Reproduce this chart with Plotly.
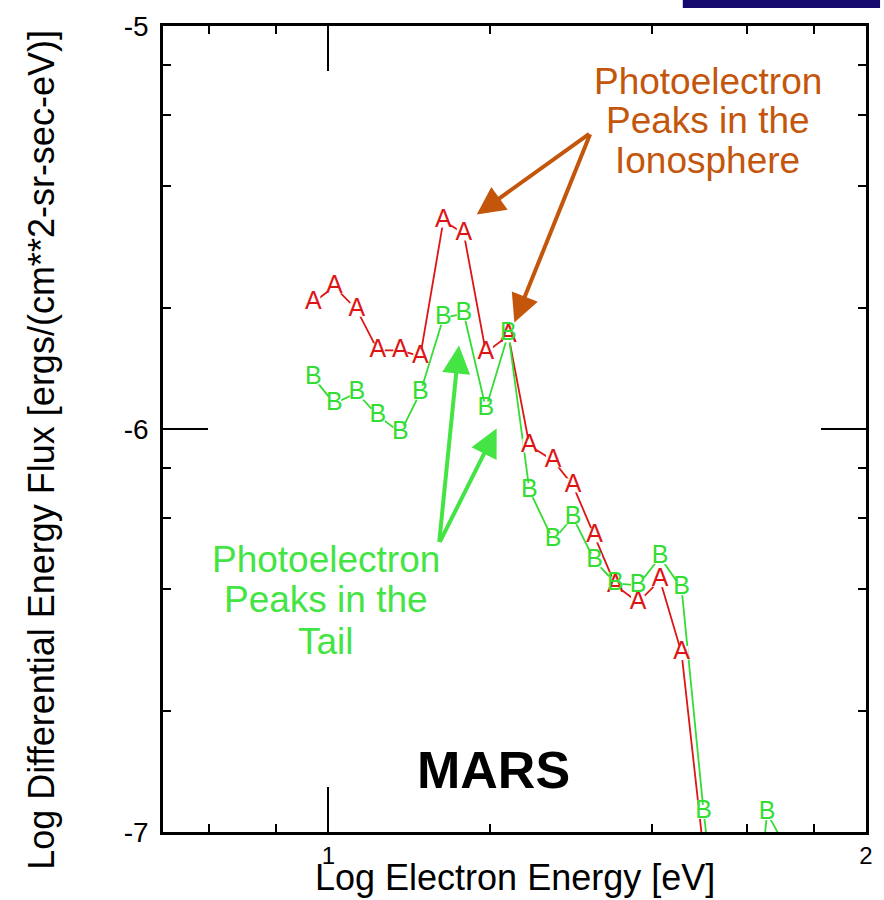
import plotly.graph_objects as go
import numpy as np

# Log10 electron energy (eV) for each channel
log_energy = [0.972, 1.011, 1.053, 1.092, 1.134, 1.171, 1.214, 1.252, 1.293, 1.335,
              1.374, 1.418, 1.455, 1.495, 1.534, 1.576, 1.617, 1.657, 1.698, 1.738,
              1.777, 1.816, 1.856]
# Series A (ionosphere), log differential energy flux
flux_a = [-5.686, -5.647, -5.704, -5.805, -5.805, -5.820, -5.483, -5.515, -5.810, -5.768,
          -6.041, -6.078, -6.140, -6.264, -6.388, -6.430, -6.375, -6.556, -7.05]
# Series B (tail)
flux_b = [-5.872, -5.937, -5.910, -5.967, -6.009, -5.910, -5.724, -5.714, -5.949, -5.763,
          -6.152, -6.276, -6.219, -6.326, -6.383, -6.388, -6.318, -6.395, -6.950, -7.40,
          -7.47, -6.953, -7.05]

x_major = [1, 2]
x_minor_energies = [6, 8, 20, 40, 60, 80]
y_major = [-7, -6, -5]
y_minor_values = [8e-6, 6e-6, 4e-6, 2e-6, 8e-7, 6e-7, 4e-7, 2e-7]

RED = "#DD1515"
GREEN = "#33DD33"
ORANGE = "#C4560C"
TXTGREEN = "#44E444"
FONT = "Liberation Sans, Arial, sans-serif"
Y_MIN, Y_MAX = -7, -5
X_MIN, X_MAX = 0.6925, 2.0

xa = log_energy[:len(flux_a)]
xb = log_energy[:len(flux_b)]


def labels(letter, ys):
    return [letter if Y_MIN <= v <= Y_MAX else "" for v in ys]


fig = go.Figure()
fig.add_trace(go.Scatter(x=xa, y=flux_a, mode="lines", line=dict(color=RED, width=1.8),
                         showlegend=False, hoverinfo="skip"))
fig.add_trace(go.Scatter(x=xb, y=flux_b, mode="lines", line=dict(color=GREEN, width=1.8),
                         showlegend=False, hoverinfo="skip"))
for xs, ys in ((xa, flux_a), (xb, flux_b)):
    fig.add_trace(go.Scatter(x=xs, y=ys, mode="markers",
                             marker=dict(symbol="square", size=14, color="white",
                                         line=dict(width=0)),
                             showlegend=False, hoverinfo="skip"))
fig.add_trace(go.Scatter(x=xa, y=flux_a, mode="text", text=labels("A", flux_a),
                         textposition="middle center",
                         textfont=dict(family=FONT, size=25, color=RED),
                         name="A", showlegend=False))
fig.add_trace(go.Scatter(x=xb, y=flux_b, mode="text", text=labels("B", flux_b),
                         textposition="middle center",
                         textfont=dict(family=FONT, size=25, color=GREEN),
                         name="B", showlegend=False))

axis_common = dict(showgrid=False, zeroline=False, showline=True, linecolor="black",
                   linewidth=2.5, mirror="allticks", ticks="inside", ticklen=45,
                   tickwidth=2, tickcolor="black")

fig.update_xaxes(range=[X_MIN, X_MAX], tickmode="array", tickvals=x_major,
                 ticktext=[str(v) for v in x_major], ticklabelstandoff=0,
                 tickfont=dict(family=FONT, size=24, color="black"),
                 minor=dict(tickmode="array", tickvals=list(np.log10(x_minor_energies)),
                            ticks="inside", ticklen=8, tickwidth=2, tickcolor="black"),
                 **axis_common)
fig.update_yaxes(range=[Y_MIN, Y_MAX], tickmode="array", tickvals=y_major,
                 ticktext=[str(v) for v in y_major], ticklabelstandoff=6,
                 tickfont=dict(family=FONT, size=28, color="black"),
                 minor=dict(tickmode="array", tickvals=list(np.log10(y_minor_values)),
                            ticks="inside", ticklen=8, tickwidth=2, tickcolor="black"),
                 **axis_common)

ann = []
# Orange text block
for yv, t in zip([-5.137, -5.235, -5.334], ["Photoelectron", "Peaks in the", "Ionosphere"]):
    ann.append(dict(x=1.706, y=yv, xref="x", yref="y", text=t, showarrow=False,
                    xanchor="center", yanchor="middle",
                    font=dict(family=FONT, size=37, color=ORANGE)))
# Green text block
for yv, t in zip([-6.323, -6.423, -6.527], ["Photoelectron", "Peaks in the", "Tail"]):
    ann.append(dict(x=0.9965, y=yv, xref="x", yref="y", text=t, showarrow=False,
                    xanchor="center", yanchor="middle",
                    font=dict(family=FONT, size=37, color=TXTGREEN)))
# Arrows
for (hx, hy) in [(1.276, -5.468), (1.346, -5.736)]:
    ann.append(dict(x=hx, y=hy, ax=1.488, ay=-5.265, xref="x", yref="y", axref="x", ayref="y",
                    text="", showarrow=True, arrowhead=2, arrowsize=1.4, arrowwidth=4,
                    arrowcolor=ORANGE, standoff=0))
for (hx, hy) in [(1.243, -5.793), (1.313, -5.999)]:
    ann.append(dict(x=hx, y=hy, ax=1.206, ay=-6.284, xref="x", yref="y", axref="x", ayref="y",
                    text="", showarrow=True, arrowhead=2, arrowsize=1.4, arrowwidth=4,
                    arrowcolor=TXTGREEN, standoff=0))
# MARS label
ann.append(dict(x=1.3076, y=-6.846, xref="x", yref="y", text="<b>MARS</b>", showarrow=False,
                xanchor="center", yanchor="middle",
                font=dict(family=FONT, size=52, color="black")))
# Axis titles
ann.append(dict(x=-0.1732, y=0.4746, xref="paper", yref="paper", textangle=-90,
                xanchor="center", yanchor="middle",
                text="Log Differential Energy Flux [ergs/(cm**2-sr-sec-eV)]", showarrow=False,
                font=dict(family=FONT, size=36, color="black")))
ann.append(dict(x=0.5, y=-0.057, xref="paper", yref="paper",
                xanchor="center", yanchor="middle",
                text="Log Electron Energy [eV]", showarrow=False,
                font=dict(family=FONT, size=36, color="black")))

fig.update_layout(
    width=884, height=900,
    margin=dict(l=163, r=11, t=25, b=68),
    paper_bgcolor="white", plot_bgcolor="white",
    annotations=ann,
    shapes=[dict(type="rect", xref="paper", yref="paper", x0=0.7394, x1=1.02,
                 y0=1.0223, y1=1.04, fillcolor="#140A6E", line=dict(width=0), layer="above")],
)

fig.write_html("out.html",
               config={"displayModeBar": False, "responsive": False},
               post_script="document.body.style.margin='0';document.body.style.overflow='hidden';")
